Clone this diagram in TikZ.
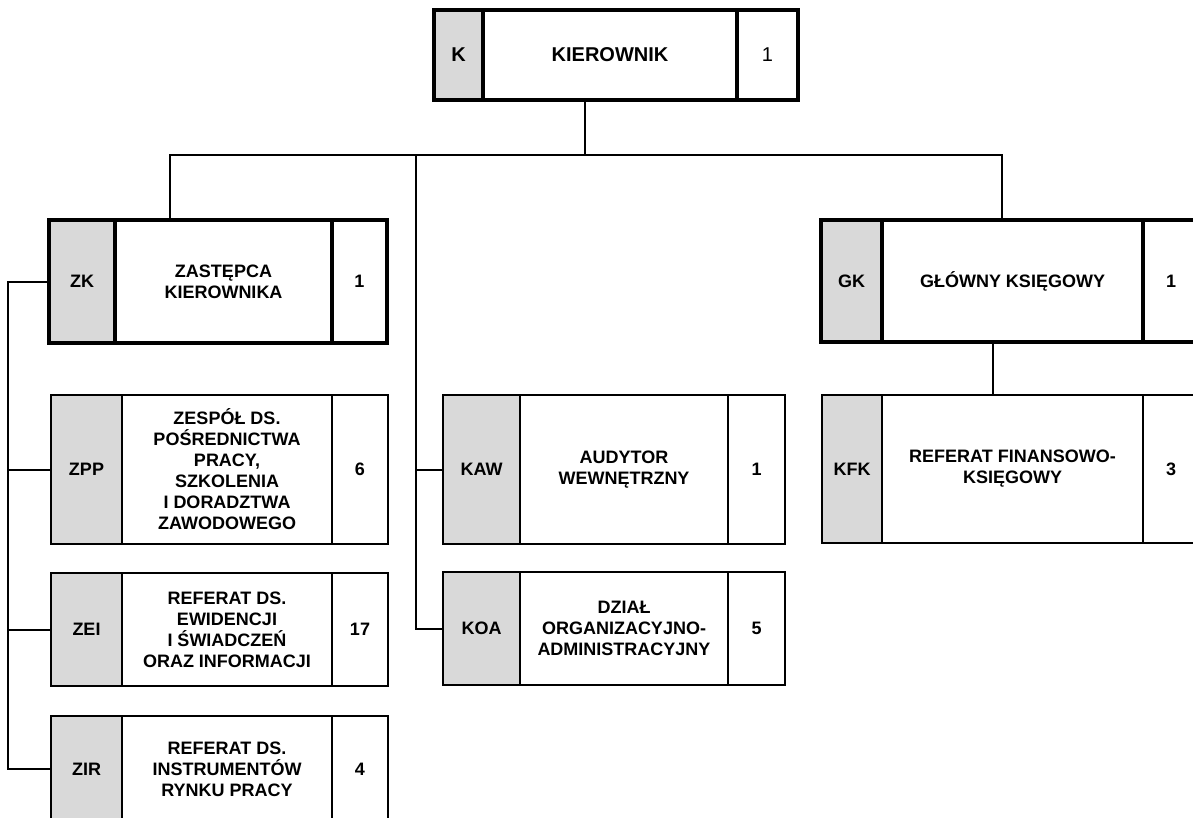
\documentclass[tikz,border=0pt]{standalone}
\usepackage{fontspec}
\setmainfont{Liberation Sans}
\usetikzlibrary{positioning}

\begin{document}
\begin{tikzpicture}[
	  x=0.5pt, y=-0.5pt,
	  font=\bfseries\fontsize{9}{10.5}\selectfont,
	  cell/.style={draw, outer sep=0pt, inner sep=2pt, align=center},
	  kod/.style={cell, fill=gray!30},
	  gruba/.style={line width=2pt},
	  cienka/.style={line width=1pt},
	  linia/.style={line width=1pt},
	  duzy/.style={font=\bfseries\fontsize{10}{12}\selectfont}
	]
	\clip (0,0) rectangle (1193,818);

	% kierownik
	\node[kod, gruba, duzy, anchor=north west, minimum width=24.5pt, minimum height=45pt] (k) at (434,10) {K};
	\node[cell, gruba, duzy, right=0pt of k, minimum width=127pt, minimum height=45pt] (k-n) {KIEROWNIK};
	\node[cell, gruba, right=0pt of k-n, minimum width=30.5pt, minimum height=45pt, font=\fontsize{10}{12}\selectfont] (k-l) {1};

	% zastepca i jego komorki
	\node[kod, gruba, anchor=north west, minimum width=33pt, minimum height=61.5pt] (zk) at (49,220) {ZK};
	\node[cell, gruba, right=0pt of zk, minimum width=108.5pt, minimum height=61.5pt] (zk-n) {ZASTĘPCA\\KIEROWNIKA};
	\node[cell, gruba, right=0pt of zk-n, minimum width=27.5pt, minimum height=61.5pt] (zk-l) {1};

	\node[kod, cienka, anchor=north west, minimum width=35.5pt, minimum height=74.5pt] (zpp) at (51,395) {ZPP};
	\node[cell, cienka, right=0pt of zpp, minimum width=105pt, minimum height=74.5pt] (zpp-n)
	{ZESPÓŁ DS.\\POŚREDNICTWA\\PRACY,\\SZKOLENIA\\I DORADZTWA\\ZAWODOWEGO};
	\node[cell, cienka, right=0pt of zpp-n, minimum width=28pt, minimum height=74.5pt] (zpp-l) {6};

	\node[kod, cienka, anchor=north west, minimum width=35.5pt, minimum height=56.5pt] (zei) at (51,573) {ZEI};
	\node[cell, cienka, right=0pt of zei, minimum width=105pt, minimum height=56.5pt] (zei-n)
	{REFERAT DS.\\EWIDENCJI\\I ŚWIADCZEŃ\\ORAZ INFORMACJI};
	\node[cell, cienka, right=0pt of zei-n, minimum width=28pt, minimum height=56.5pt] (zei-l) {17};

	\node[kod, cienka, anchor=north west, minimum width=35.5pt, minimum height=53pt] (zir) at (51,716) {ZIR};
	\node[cell, cienka, right=0pt of zir, minimum width=105pt, minimum height=53pt] (zir-n)
	{REFERAT DS.\\INSTRUMENTÓW\\RYNKU PRACY};
	\node[cell, cienka, right=0pt of zir-n, minimum width=28pt, minimum height=53pt] (zir-l) {4};

	% komorki kierownika
	\node[kod, cienka, anchor=north west, minimum width=38.5pt, minimum height=74.5pt] (kaw) at (443,395) {KAW};
	\node[cell, cienka, right=0pt of kaw, minimum width=104pt, minimum height=74.5pt] (kaw-n) {AUDYTOR\\WEWNĘTRZNY};
	\node[cell, cienka, right=0pt of kaw-n, minimum width=28.5pt, minimum height=74.5pt] (kaw-l) {1};

	\node[kod, cienka, anchor=north west, minimum width=38.5pt, minimum height=56.5pt] (koa) at (443,572) {KOA};
	\node[cell, cienka, right=0pt of koa, minimum width=104pt, minimum height=56.5pt] (koa-n)
	{DZIAŁ\\ORGANIZACYJNO-\\ADMINISTRACYJNY};
	\node[cell, cienka, right=0pt of koa-n, minimum width=28.5pt, minimum height=56.5pt] (koa-l) {5};

	% glowny ksiegowy
	\node[kod, gruba, anchor=north west, minimum width=30.5pt, minimum height=61pt] (gk) at (821,220) {GK};
	\node[cell, gruba, right=0pt of gk, minimum width=130.5pt, minimum height=61pt] (gk-n) {GŁÓWNY KSIĘGOWY};
	\node[cell, gruba, right=0pt of gk-n, minimum width=28pt, minimum height=61pt] (gk-l) {1};

	\node[kod, cienka, anchor=north west, minimum width=30pt, minimum height=74pt] (kfk) at (822,395) {KFK};
	\node[cell, cienka, right=0pt of kfk, minimum width=130.5pt, minimum height=74pt] (kfk-n)
	{REFERAT FINANSOWO-\\KSIĘGOWY};
	\node[cell, cienka, right=0pt of kfk-n, minimum width=28pt, minimum height=74pt] (kfk-l) {3};

	% polaczenia
	\coordinate (szyna) at (585,155);
	\coordinate (sz-l) at (170,155);
	\coordinate (sz-s) at (416,155);
	\coordinate (sz-p) at (1002,155);
	\coordinate (gk-x) at (993,0);
	\coordinate (lewa) at (8,0);

	\draw[linia] (k-n.south -| szyna) -- (szyna);
	\draw[linia] (sz-l |- zk-n.north) |- (sz-p) -- (sz-p |- gk-n.north);
	\draw[linia] (sz-s) |- (koa.west);
	\draw[linia] (kaw.west) -- (kaw.west -| sz-s);
	\draw[linia] (gk-n.south -| gk-x) -- (kfk-n.north -| gk-x);

	\draw[linia] (zk.west) -| (lewa |- zir.west) -- (zir.west);
	\foreach \n in {zpp, zei}
	  \draw[linia] (\n.west) -- (lewa |- \n.west);

\end{tikzpicture}
\end{document}
